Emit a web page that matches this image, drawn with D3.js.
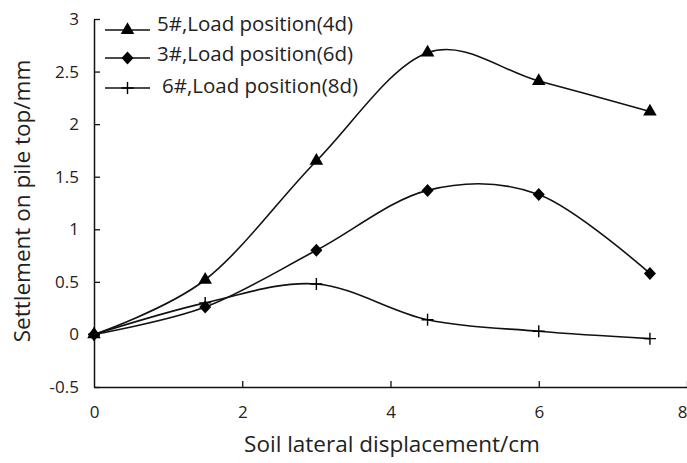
<!DOCTYPE html>
<html><head><meta charset="utf-8">
<script src="https://cdn.jsdelivr.net/npm/d3@7"></script>
<style>body{margin:0;background:#fff}svg{display:block}text{font-family:"Open Sans",sans-serif;fill:#222}</style>
</head><body>
<script>
const xValues = [0, 1.5, 3, 4.5, 6, 7.5];
const seriesNames = ["5#,Load position(4d)", "3#,Load position(6d)", "6#,Load position(8d)"];
const series5 = [0, 0.52, 1.65, 2.68, 2.41, 2.12];
const series3 = [0, 0.26, 0.80, 1.37, 1.33, 0.58];
const series6 = [0, 0.30, 0.48, 0.14, 0.03, -0.04];
const xTicks = [0, 2, 4, 6, 8];
const yTicks = [-0.5, 0, 0.5, 1, 1.5, 2, 2.5, 3];
const xTitle = "Soil lateral displacement/cm";
const yTitle = "Settlement on pile top/mm";

const W = 687, H = 463;
const svg = d3.select("body").append("svg").attr("width", W).attr("height", H);
const x = d3.scaleLinear().domain([0, 8]).range([94, 687]);
const y = d3.scaleLinear().domain([-0.5, 3]).range([387, 19]);

// axes
const yAxis = d3.axisLeft(y).tickValues(yTicks).tickSizeInner(-6).tickSizeOuter(0).tickPadding(15)
  .tickFormat(d => String(d));
const gy = svg.append("g").attr("transform", `translate(${x(0)},0)`).call(yAxis);
const xAxis = d3.axisBottom(x).tickValues(xTicks).tickSizeInner(-6).tickSizeOuter(0).tickPadding(19)
  .tickFormat(d => String(d));
const gx = svg.append("g").attr("transform", `translate(0,${y(-0.5)})`).call(xAxis);
[gx, gy].forEach(g => {
  g.select(".domain").attr("stroke", "#111").attr("stroke-width", 1.5);
  g.selectAll(".tick line").attr("stroke", "#111").attr("stroke-width", 1.3);
  g.selectAll(".tick text").style("font-size", "17px").attr("fill", "#222");
});
gx.selectAll(".tick").filter(d => d === 0).select("line").remove();
gx.selectAll(".tick").filter(d => d === 8).select("text").attr("text-anchor", "end").attr("dx", "0");

svg.append("text").attr("x", 392).attr("y", 444).attr("dy", "0.35em").attr("text-anchor", "middle")
  .style("font-size", "22.5px").attr("fill", "#2a2a2a").text(xTitle);
svg.append("text").attr("transform", "translate(22,201) rotate(-90)").attr("dy", "0.35em").attr("text-anchor", "middle")
  .style("font-size", "22.5px").attr("fill", "#2a2a2a").text(yTitle);

const line = d3.line().x((d, i) => x(xValues[i])).y(d => y(d)).curve(d3.curveCardinal.tension(0));
const data = [series5, series3, series6];
const markers = ["triangle", "diamond", "plus"];

function drawMarker(g, type, cx, cy) {
  if (type === "triangle") {
    g.append("path").attr("d", d3.symbol().type(d3.symbolTriangle).size(80)())
      .attr("transform", `translate(${cx},${cy})`).attr("fill", "#000");
  } else if (type === "diamond") {
    g.append("path").attr("d", `M0,-6.5L6,0L0,6.5L-6,0Z`)
      .attr("transform", `translate(${cx},${cy})`).attr("fill", "#000");
  } else {
    g.append("path").attr("d", `M-6,0H6M0,-6V6`)
      .attr("transform", `translate(${cx},${cy})`).attr("stroke", "#000").attr("stroke-width", 1.4).attr("fill", "none");
  }
}

data.forEach((s, k) => {
  const g = svg.append("g");
  g.append("path").attr("d", line(s)).attr("fill", "none").attr("stroke", "#111").attr("stroke-width", 1.6);
  s.forEach((v, i) => drawMarker(g, markers[k], x(xValues[i]), y(v)));
});

// legend
const legY = [30, 58, 88];
const textY = [24, 54, 86];
seriesNames.forEach((n, k) => {
  const g = svg.append("g");
  g.append("line").attr("x1", 105).attr("x2", 150).attr("y1", legY[k]).attr("y2", legY[k])
    .attr("stroke", "#111").attr("stroke-width", 1.6);
  drawMarker(g, markers[k], 127.5, legY[k]);
  g.append("text").attr("x", k === 2 ? 162 : 157).attr("y", textY[k]).attr("dy", "0.35em")
    .style("font-size", "20px").attr("textLength", 196).attr("lengthAdjust", "spacingAndGlyphs").text(n);
});
</script>
</body></html>
